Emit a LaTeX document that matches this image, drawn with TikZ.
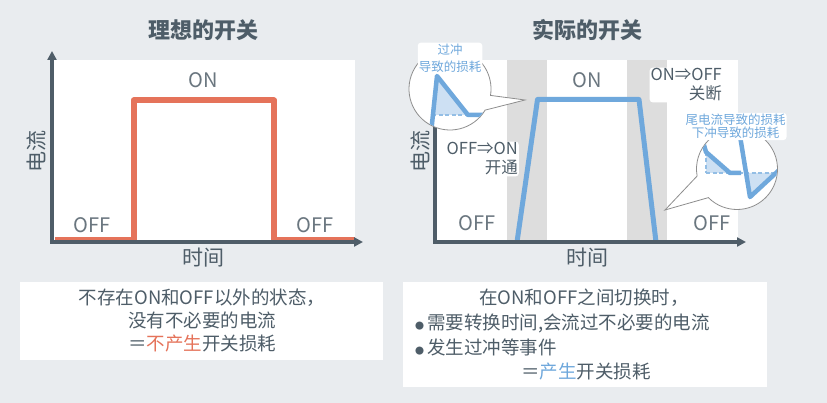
\documentclass[tikz,border=0pt]{standalone}
\usepackage{fontspec}
\setmainfont{Noto Sans CJK SC}
\usepackage{xcolor}
\usepackage{tikz}
\usetikzlibrary{arrows.meta,calc}
\definecolor{cBg}{HTML}{E9ECEF}
\definecolor{cText}{HTML}{4E5D68}
\definecolor{cState}{HTML}{6A767F}
\definecolor{cAxis}{HTML}{4F5D68}
\definecolor{cIdeal}{HTML}{E5735A}
\definecolor{cReal}{HTML}{6FA8DC}
\definecolor{cLoss}{HTML}{CDE0F3}
\definecolor{cBand}{HTML}{DDDDDD}
\definecolor{cRing}{HTML}{8E8E8E}
\tikzset{
  axis/.style={-{Triangle[length=9pt,width=9pt]}, line width=3.5pt, cAxis},
  ideal/.style={line width=6pt, cIdeal, line join=round},
  real/.style={line width=5pt, cReal, line join=round},
  lossline/.style={line width=1.2pt, cReal!75, dash pattern=on 4pt off 2.5pt},
  ring/.style={draw=cRing, line width=0.8pt, fill=white},
  halo/.style={fill=white, rounded corners=3pt, inner sep=1pt},
  ttl/.style={font=\fontsize{22}{26}\selectfont\bfseries, text=cText, inner sep=0pt},
  axlbl/.style={font=\fontsize{21}{24}\selectfont, text=cText, inner sep=0pt},
  stlbl/.style={font=\fontsize{20}{24}\selectfont, text=cState, inner sep=0pt},
  swlbl/.style={font=\fontsize{16.5}{19}\selectfont, text=cText, halo, align=right},
  note/.style={text=cReal, halo, align=center},
  txt/.style={font=\fontsize{18.5}{22}\selectfont, text=cText, inner sep=0pt}
}
\newcommand{\dotmark}{{\fontsize{9}{9}\selectfont ●}\hspace{3pt}}

\begin{document}
\begin{tikzpicture}[x=1pt, y=1pt]
\fill[cBg] (0,0) rectangle (827,403);
\useasboundingbox (0,0) rectangle (827,403);
% left chart: ideal switch
\fill[white] (52,161) rectangle (355,343);
\draw[ideal] (55,163) -- (133.5,163) -- (133.5,302.5) -- (274,302.5) -- (274,163) -- (355,163);
\draw[axis] (52,159.25) -- (52,352);
\draw[axis] (50.25,161) -- (363,161);
\node[ttl] (tIdeal) at (203,373) {理想的开关};
\node[stlbl] (onA) at (203,323) {ON};
\node[stlbl] (offA1) at (92,178) {OFF};
\node[stlbl] (offA2) at (315,178) {OFF};
\node[axlbl, rotate=90] (iA) at (36,251) {电流};
\node[axlbl] (tA) at (203,145) {时间};
% right chart: real switch
\fill[white] (435,161) rectangle (738,343);
\fill[cBand] (507,161) rectangle (547,343);
\fill[cBand] (627,161) rectangle (667,343);
\draw[real] (517,161) -- (537.5,303.5) -- (639,303.5) -- (656,161);
\draw[axis] (435,159.25) -- (435,352);
\draw[axis] (433.25,161) -- (746,161);
\node[ttl] (tReal) at (587,373) {实际的开关};
\node[stlbl] (onB) at (587,323) {ON};
\node[stlbl] (offB1) at (477,180) {OFF};
\node[stlbl] (offB2) at (712,180) {OFF};
\node[axlbl, rotate=90] (iB) at (420,251) {电流};
\node[axlbl] (tB) at (587,145) {时间};
\node[swlbl, anchor=east] (swOn) at (519,244) {OFF⇒ON\\开通};
\node[swlbl, anchor=east] (swOff) at (723,318) {ON⇒OFF\\关断};
% callout: overshoot
\coordinate (c1) at (450,314);
\coordinate (tip1) at (525,303);
\filldraw[ring] ($(c1)+(-9:41pt)$) -- (tip1) -- ($(c1)+(-31:41pt)$)
  arc[start angle=-31, end angle=-369, radius=41pt] -- cycle;
\begin{scope}
  \clip (c1) circle[radius=40.5pt];
  \fill[cLoss] (433.5,288) -- (437,327) -- (468,288) -- cycle;
  \draw[lossline] (432,288) -- (468,288);
  \draw[real, line width=4.5pt] (430,260) -- (437,327) -- (468,288) -- (495,288);
\end{scope}
\node[note, font=\fontsize{12.5}{17}\selectfont] (ovLoss) at (450,345) {过冲\\导致的损耗};
% callout: tail current and undershoot
\coordinate (c2) at (737,234);
\coordinate (tip2) at (665,193);
\filldraw[ring] ($(c2)+(190:40.5pt)$) -- (tip2) -- ($(c2)+(225:40.5pt)$)
  arc[start angle=225, end angle=550, radius=40.5pt] -- cycle;
\begin{scope}
  \clip (c2) circle[radius=40pt];
  \fill[cLoss] (706,251) -- (730,230) -- (706,230) -- cycle;
  \fill[cLoss] (746,230) -- (750,206) -- (776,230) -- cycle;
  \draw[lossline] (706,230) -- (780,230);
  \draw[lossline] (706,251) -- (706,230);
  \draw[real, line width=4.5pt] (699,275) -- (706,251) -- (730,230) -- (741,230);
  \draw[real, line width=4.5pt] (738.7,275) -- (750,206) -- (790,243);
\end{scope}
\node[note, font=\fontsize{12.5}{13.5}\selectfont] (tailLoss) at (735.5,276.5) {尾电流导致的损耗\\下冲导致的损耗};
% bottom boxes
\fill[white] (20,43) rectangle (383,121);
\node[txt] (noMid) at (202,105) {不存在ON和OFF以外的状态，};
\node[txt] (noCur) at (202,83) {没有不必要的电流};
\node[txt] (noLoss) at (202,59) {＝{\color{cIdeal}不产生}开关损耗};
\fill[white] (403,16) rectangle (767,121);
\node[txt] (swCond) at (584,105) {在ON和OFF之间切换时，};
\node[txt, anchor=west] (pt1) at (415,80) {\dotmark 需要转换时间,会流过不必要的电流};
\node[txt, anchor=west] (pt2) at (415,56) {\dotmark 发生过冲等事件};
\node[txt] (yesLoss) at (586,31) {＝{\color{cReal}产生}开关损耗};
\end{tikzpicture}
\end{document}
